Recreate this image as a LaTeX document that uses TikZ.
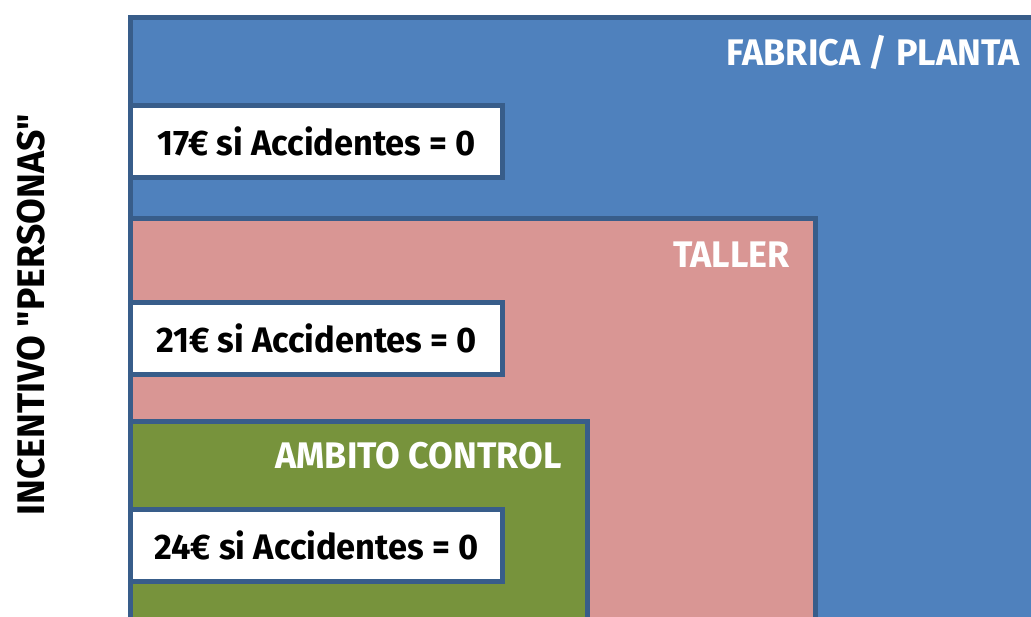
\documentclass[tikz,border=0pt]{standalone}
\usepackage{fontspec}
\setmainfont{Fira Sans}[FakeStretch=0.97,Ligatures=TeXOff]
\usetikzlibrary{positioning}
\definecolor{planta}{RGB}{79,129,189}
\definecolor{taller}{RGB}{217,150,148}
\definecolor{ambito}{RGB}{119,147,60}
\definecolor{borde}{RGB}{56,93,138}
\tikzstyle{zona} = [rectangle,draw=borde,line width=5pt,anchor=north west,inner sep=0pt]
\tikzstyle{premio} = [zona,fill=white,minimum width=372pt,minimum height=72pt,font=\fontsize{35.5}{40}\selectfont\bfseries]
\tikzstyle{titulo} = [anchor=base east,inner sep=0pt,text=white,font=\fontsize{37}{42}\selectfont\bfseries]

\begin{document}
\begin{tikzpicture}[x=1pt,y=-1pt]
		\useasboundingbox (0,0) rectangle (1031,616);
		\clip (0,0) rectangle (1031,616);
		\node [zona,fill=planta,minimum width=1000pt,minimum height=700pt](fabrica) at (128,15) {};
		\node [premio](p17) at (128,103) {17€ si Accidentes = 0};
		\node [zona,fill=taller,minimum width=685pt,minimum height=500pt](tall) at (128,215.5) {};
		\node [premio](p21) at (128,300) {21€ si Accidentes = 0};
		\node [zona,fill=ambito,minimum width=457pt,minimum height=300pt](amb) at (128,419) {};
		\node [premio](p24) at (128,507) {24€ si Accidentes = 0};
		
		\node [titulo](tfabrica) at (1020,65) {FABRICA / PLANTA};
		\node [titulo](ttaller) at (790,267) {TALLER};
		\node [titulo](tambito) at (562,468) {AMBITO CONTROL};
		\node [rotate=90,inner sep=0pt,font=\fontsize{38.5}{44}\selectfont\bfseries](incentivo) at (31,315) {INCENTIVO "PERSONAS"};
		\end{tikzpicture}
\end{document}
